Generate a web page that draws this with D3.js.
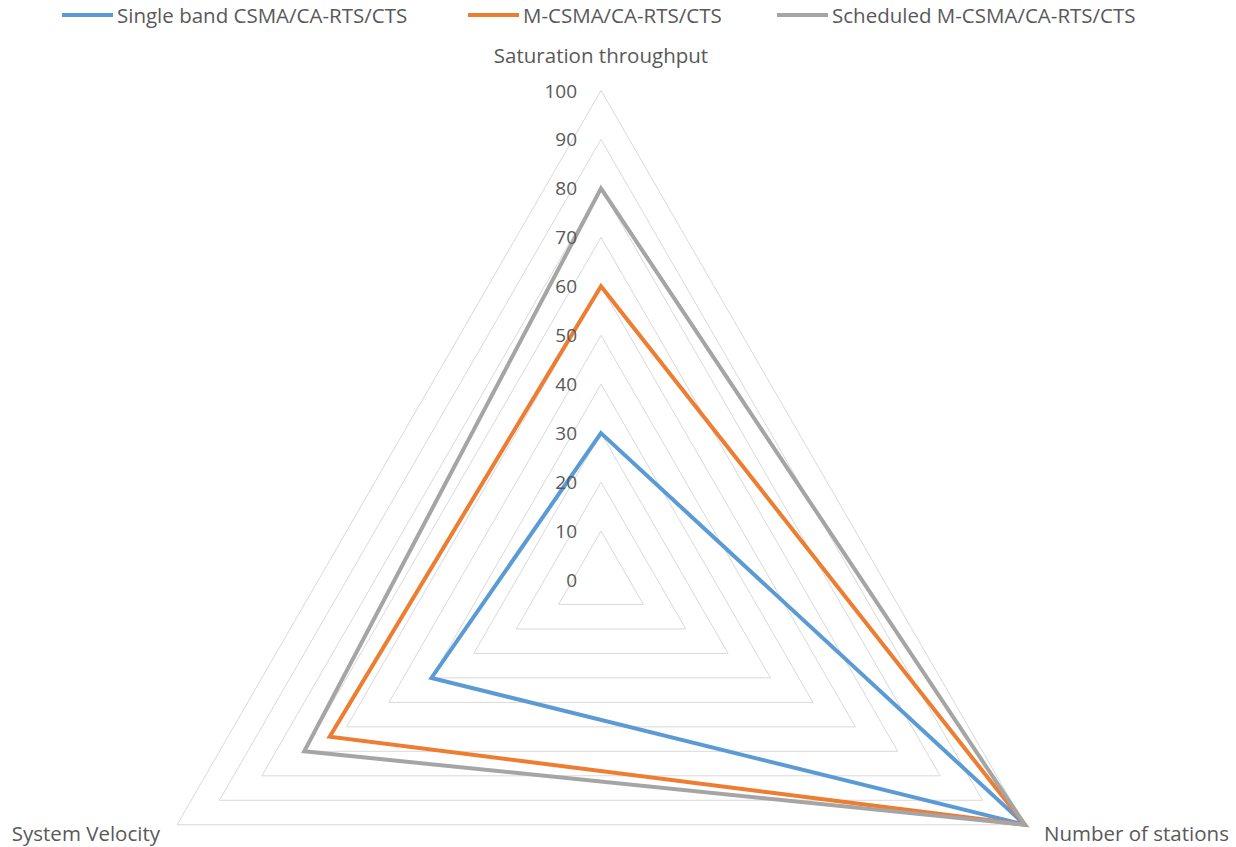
<!DOCTYPE html>
<html>
<head>
<meta charset="utf-8">
<script src="https://cdn.jsdelivr.net/npm/d3@7"></script>
<style>
  html, body { margin: 0; padding: 0; background: #fff; }
  text { font-family: "Open Sans", "Noto Sans", sans-serif; fill: #595959; }
</style>
</head>
<body>
<svg id="chart" width="1236" height="847"></svg>
<script>
const categories = ["Saturation throughput", "Number of stations", "System Velocity"];
const seriesNames = ["Single band CSMA/CA-RTS/CTS", "M-CSMA/CA-RTS/CTS", "Scheduled M-CSMA/CA-RTS/CTS"];
const singleBand = [30, 100, 40];
const mCsma = [60, 100, 64];
const scheduled = [80, 100, 70];
const tickValues = [0, 10, 20, 30, 40, 50, 60, 70, 80, 90, 100];
const colors = ["#5b9bd5", "#ed7d31", "#a5a5a5"];

const series = [singleBand, mCsma, scheduled];

const svg = d3.select("#chart");
const cx = 601, cy = 580, R = 489.5;
const r = d3.scaleLinear().domain([0, 100]).range([0, R]);
const angle = i => -Math.PI / 2 + i * 2 * Math.PI / categories.length;
const pt = (i, v) => [cx + r(v) * Math.cos(angle(i)), cy + r(v) * Math.sin(angle(i))];

// grid triangles
const g = svg.append("g");
tickValues.filter(v => v > 0).forEach(v => {
  g.append("path")
    .attr("d", d3.line()(categories.map((c, i) => pt(i, v))) + "Z")
    .attr("fill", "none")
    .attr("stroke", "#d9d9d9")
    .attr("stroke-width", 1);
});

// series
const line = d3.line();
series.forEach((s, k) => {
  svg.append("path")
    .attr("d", line(s.map((v, i) => pt(i, v))) + "Z")
    .attr("fill", "none")
    .attr("stroke", colors[k])
    .attr("stroke-width", 4)
    .attr("stroke-linejoin", "miter");
});

// tick labels
svg.append("g").selectAll("text").data(tickValues).join("text")
  .attr("x", cx - 24)
  .attr("y", d => cy - r(d))
  .attr("text-anchor", "end")
  .attr("dominant-baseline", "central")
  .style("font-size", "19px")
  .text(d => d);

// category labels
const fs = "20.5px";
svg.append("text").attr("x", cx).attr("y", 55).attr("text-anchor", "middle")
  .attr("dominant-baseline", "central").style("font-size", fs).text(categories[0]);
svg.append("text").attr("x", 1044).attr("y", 833).attr("text-anchor", "start")
  .attr("dominant-baseline", "central").style("font-size", fs).text(categories[1]);
svg.append("text").attr("x", 160).attr("y", 833).attr("text-anchor", "end")
  .attr("dominant-baseline", "central").style("font-size", fs).text(categories[2]);

// legend
const legendX = [62, 468, 777];
const legend = svg.append("g");
seriesNames.forEach((n, k) => {
  legend.append("line")
    .attr("x1", legendX[k]).attr("x2", legendX[k] + 51)
    .attr("y1", 15).attr("y2", 15)
    .attr("stroke", colors[k]).attr("stroke-width", 4);
  legend.append("text")
    .attr("x", legendX[k] + 55).attr("y", 15)
    .attr("dominant-baseline", "central")
    .style("font-size", fs)
    .text(n);
});
</script>
</body>
</html>
